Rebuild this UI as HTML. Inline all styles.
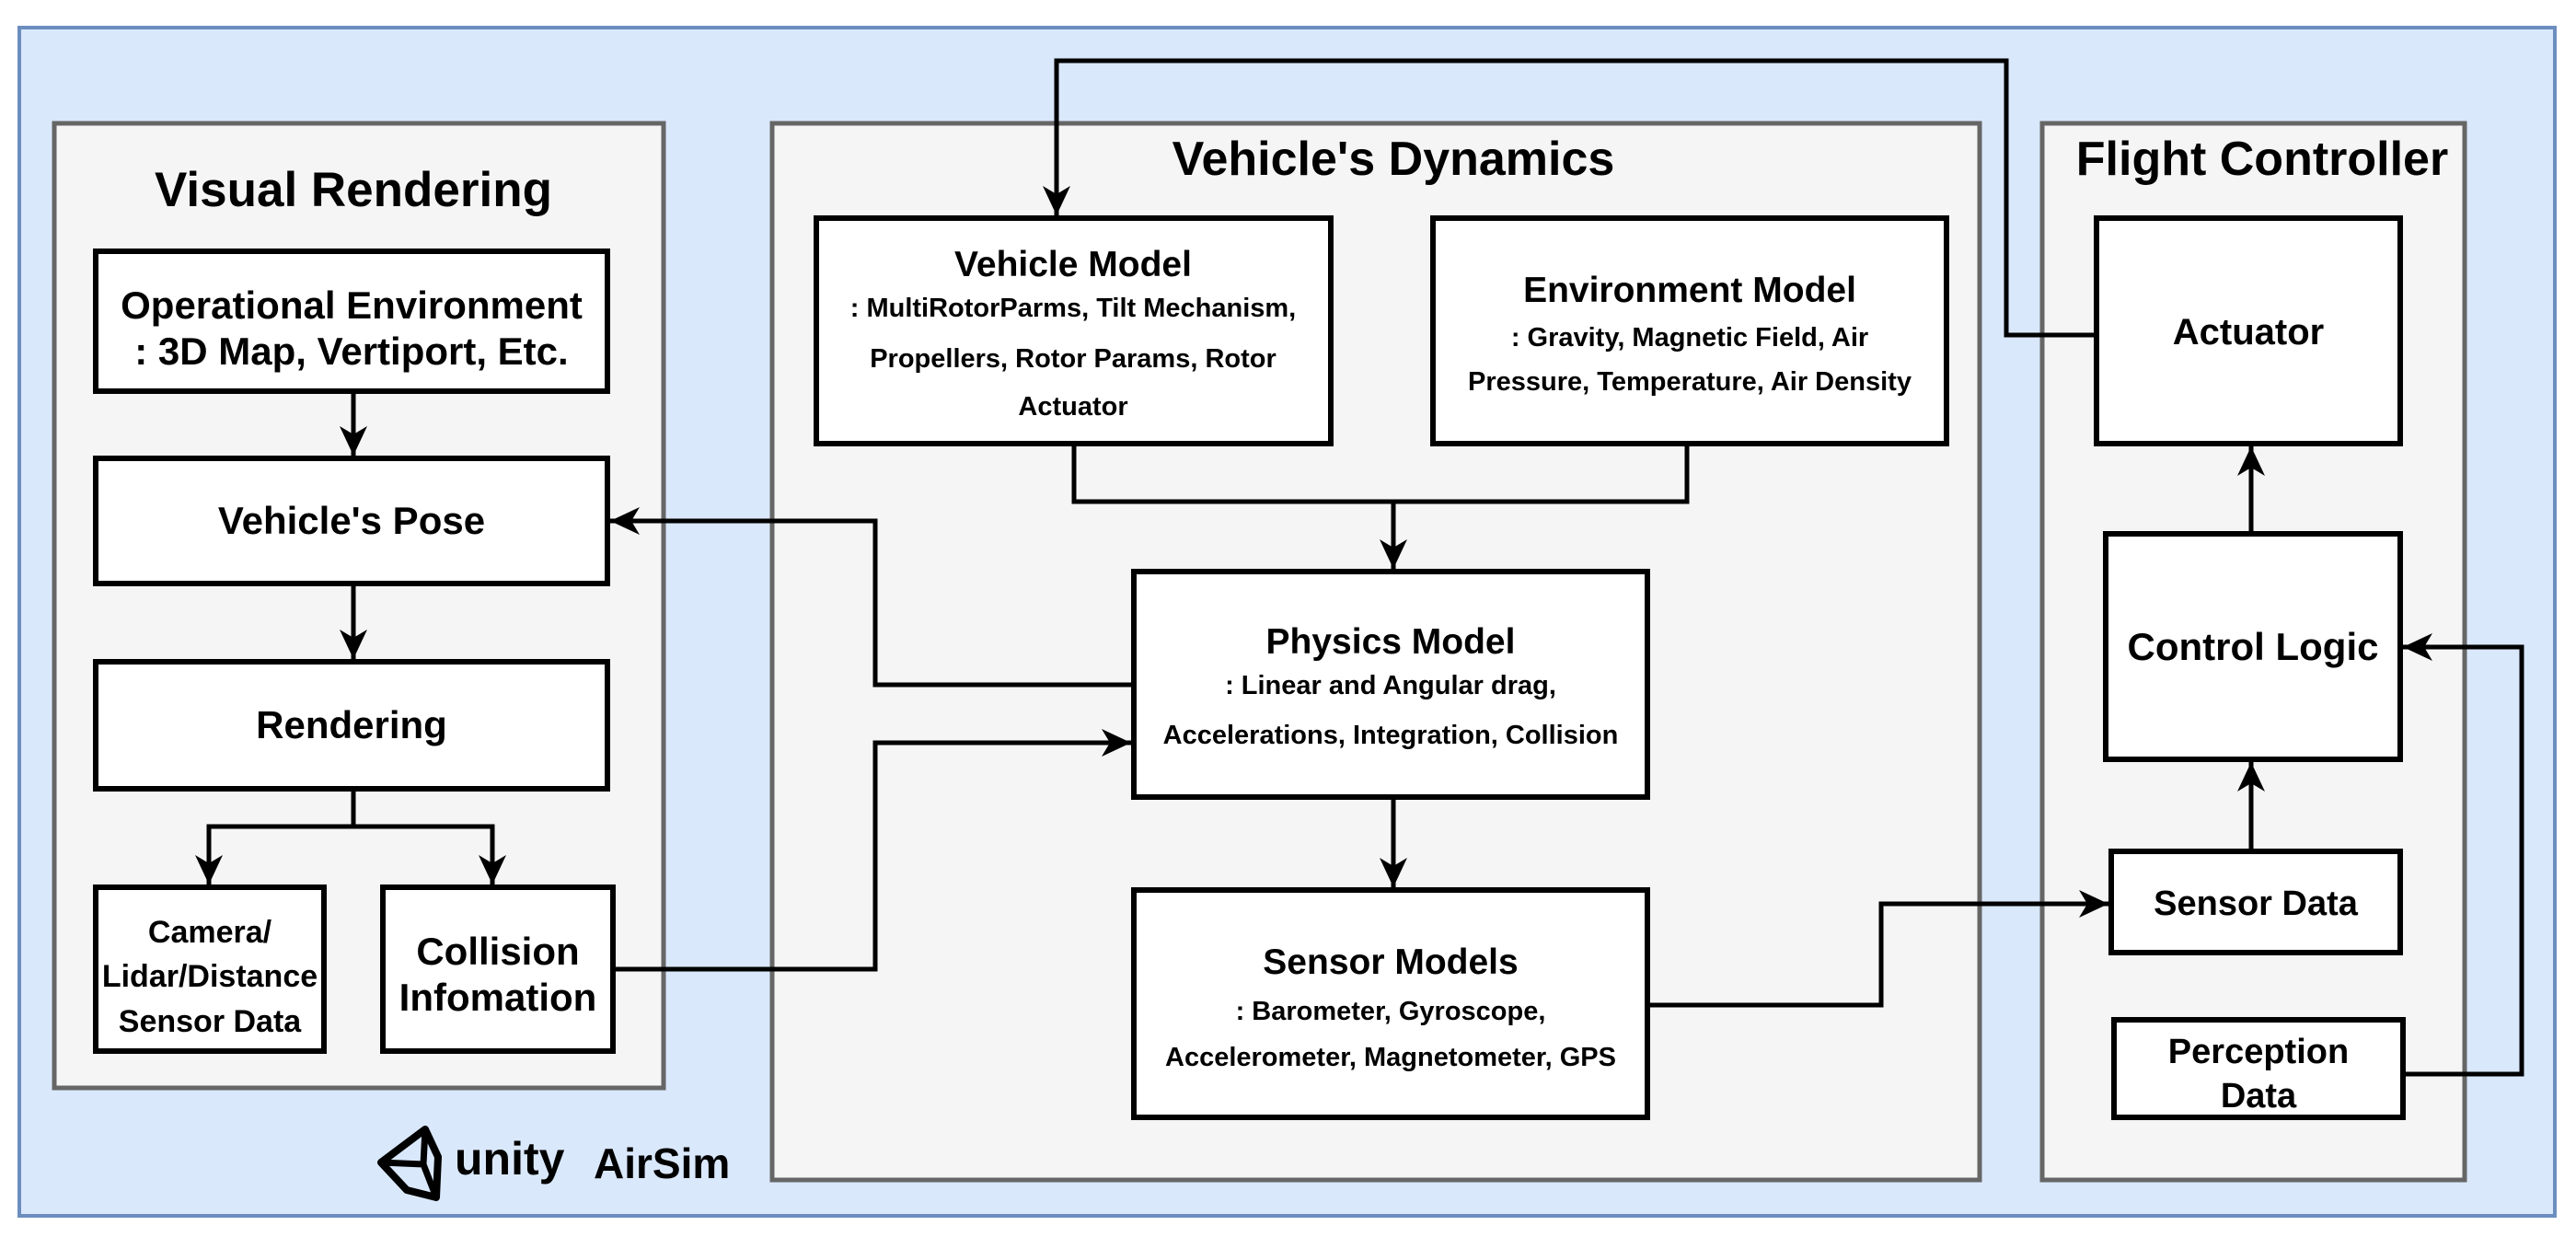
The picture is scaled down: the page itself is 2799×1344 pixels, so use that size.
<!DOCTYPE html>
<html><head><meta charset="utf-8"><style>
html,body{margin:0;padding:0;background:#fff;}
svg{display:block;}
text{font-family:"Liberation Sans",Arial,sans-serif;font-weight:bold;fill:#000;}
</style></head><body>
<svg width="2799" height="1344" viewBox="0 0 2799 1344" xmlns="http://www.w3.org/2000/svg">
<defs>
<marker id="a" markerUnits="userSpaceOnUse" markerWidth="34" markerHeight="30" refX="32" refY="15" orient="auto">
<path d="M0,0 L32,15 L0,30 L9,15 z" fill="#000"/>
</marker>
</defs>
<rect x="21" y="30" width="2755" height="1291" fill="#dae8fc" stroke="#6c8ebf" stroke-width="4"/>
<rect x="59" y="134" width="662" height="1048" fill="#f5f5f5" stroke="#666" stroke-width="5"/>
<rect x="839" y="134" width="1312" height="1148" fill="#f5f5f5" stroke="#666" stroke-width="5"/>
<rect x="2219" y="134" width="459" height="1148" fill="#f5f5f5" stroke="#666" stroke-width="5"/>
<text x="384" y="224" font-size="53" text-anchor="middle">Visual Rendering</text>
<text x="1514" y="190" font-size="52" text-anchor="middle">Vehicle's Dynamics</text>
<text x="2458" y="190" font-size="52" text-anchor="middle">Flight Controller</text>

<g fill="#fff" stroke="#000" stroke-width="6">
<rect x="104" y="273" width="556" height="152"/>
<rect x="104" y="498" width="556" height="136"/>
<rect x="104" y="719" width="556" height="138"/>
<rect x="104" y="964" width="248" height="178"/>
<rect x="416" y="964" width="250" height="178"/>
<rect x="887" y="237" width="559" height="245"/>
<rect x="1557" y="237" width="558" height="245"/>
<rect x="1232" y="621" width="558" height="245"/>
<rect x="1232" y="967" width="558" height="247"/>
<rect x="2278" y="237" width="330" height="245"/>
<rect x="2288" y="580" width="320" height="245"/>
<rect x="2294" y="925" width="314" height="110"/>
<rect x="2297" y="1108" width="314" height="106"/>
</g>

<g font-size="42" text-anchor="middle">
<text x="382" y="346">Operational Environment</text>
<text x="382" y="396">: 3D Map, Vertiport, Etc.</text>
<text x="382" y="580">Vehicle's Pose</text>
<text x="382" y="802">Rendering</text>
<text x="541" y="1048">Collision</text>
<text x="541" y="1098">Infomation</text>
<text x="2443" y="374" font-size="40">Actuator</text>
<text x="2448" y="717">Control Logic</text>
</g>
<g font-size="34" text-anchor="middle">
<text x="228" y="1024">Camera/</text>
<text x="228" y="1072">Lidar/Distance</text>
<text x="228" y="1121">Sensor Data</text>
<text x="2451" y="994" font-size="38">Sensor Data</text>
<text x="2454" y="1155" font-size="38">Perception</text>
<text x="2454" y="1203" font-size="38">Data</text>
</g>
<g text-anchor="middle">
<text x="1166" y="300" font-size="39">Vehicle Model</text>
<text x="1166" y="344" font-size="29">: MultiRotorParms, Tilt Mechanism,</text>
<text x="1166" y="399" font-size="29">Propellers, Rotor Params, Rotor</text>
<text x="1166" y="451" font-size="29">Actuator</text>
<text x="1836" y="328" font-size="39">Environment Model</text>
<text x="1836" y="376" font-size="29">: Gravity, Magnetic Field, Air</text>
<text x="1836" y="424" font-size="29">Pressure, Temperature, Air Density</text>
<text x="1511" y="710" font-size="39">Physics Model</text>
<text x="1511" y="754" font-size="29">: Linear and Angular drag,</text>
<text x="1511" y="808" font-size="29">Accelerations, Integration, Collision</text>
<text x="1511" y="1058" font-size="39">Sensor Models</text>
<text x="1511" y="1108" font-size="29">: Barometer, Gyroscope,</text>
<text x="1511" y="1158" font-size="29">Accelerometer, Magnetometer, GPS</text>
</g>

<g fill="none" stroke="#000" stroke-width="5">
<path d="M2278,364 H2180 V66 H1148 V234" marker-end="url(#a)"/>
<path d="M1167,482 V545 H1833 V482"/>
<path d="M1514,545 V618" marker-end="url(#a)"/>
<path d="M1232,744 H951 V566 H663" marker-end="url(#a)"/>
<path d="M666,1053 H951 V807 H1229" marker-end="url(#a)"/>
<path d="M1514,866 V964" marker-end="url(#a)"/>
<path d="M1790,1092 H2044 V982 H2291" marker-end="url(#a)"/>
<path d="M2446,925 V828" marker-end="url(#a)"/>
<path d="M2446,580 V485" marker-end="url(#a)"/>
<path d="M2611,1167 H2740 V703 H2611" marker-end="url(#a)"/>
<path d="M384,425 V495" marker-end="url(#a)"/>
<path d="M384,634 V716" marker-end="url(#a)"/>
<path d="M384,857 V898 H227 V961" marker-end="url(#a)"/>
<path d="M384,898 H535 V961" marker-end="url(#a)"/>
</g>

<g transform="translate(448,1263)">
<path d="M-34,0 L14,-36 L28,-6 L26,38 L-6,30 Z" fill="none" stroke="#000" stroke-width="8" stroke-linejoin="round"/>
<path d="M-34,0 L12,2 L14,-36 M12,2 L26,38" fill="none" stroke="#000" stroke-width="7"/>
</g>
<text x="494" y="1276" font-size="50">unity</text>
<text x="645" y="1280" font-size="46">AirSim</text>
</svg>
</body></html>
